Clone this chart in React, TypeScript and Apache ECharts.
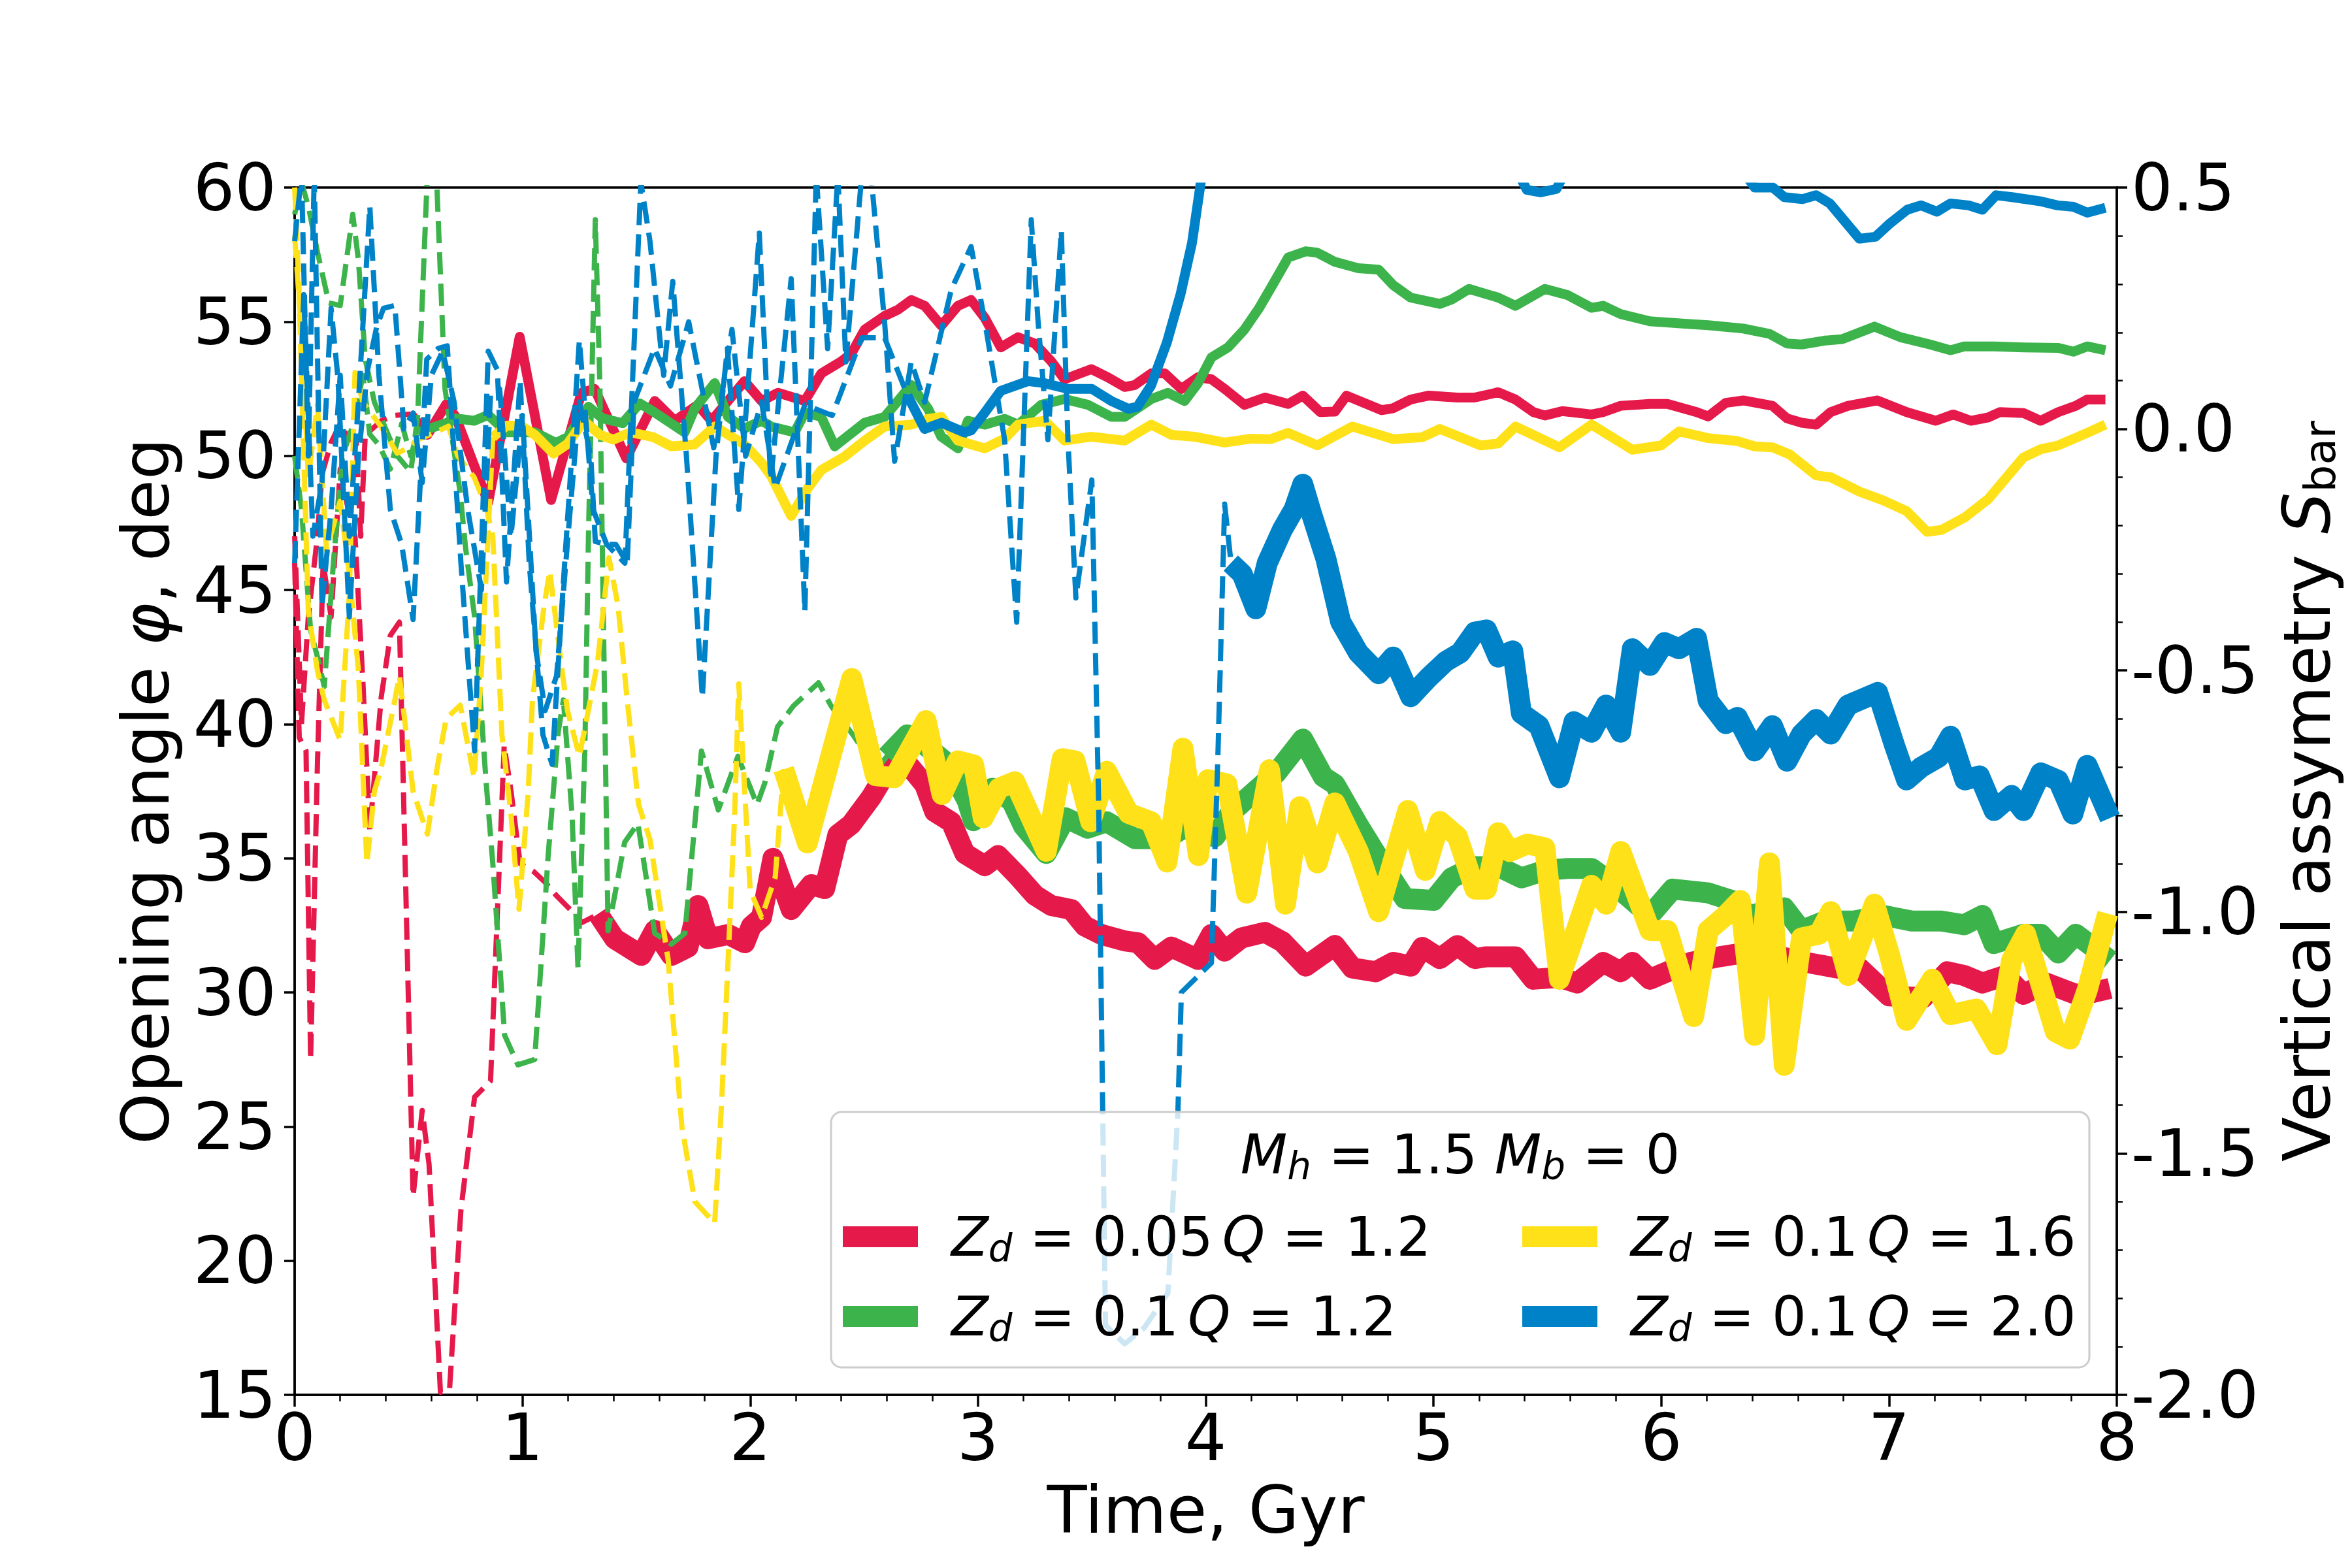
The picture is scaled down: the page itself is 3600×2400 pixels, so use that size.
import React, { useEffect, useRef } from "react";
import * as echarts from "echarts";

const FONT = "DejaVu Sans";
const RED = "#e6194b";
const GREEN = "#3cb44b";
const YELLOW = "#ffe119";
const BLUE = "#0082c8";

type P = [number, number][];

// ---- tick labels / axis ranges ----
const xTicks = [0, 1, 2, 3, 4, 5, 6, 7, 8];
const phiTicks = [15, 20, 25, 30, 35, 40, 45, 50, 55, 60];
const sTicks = [-2.0, -1.5, -1.0, -0.5, 0.0, 0.5];

// ---- legend entries ----
const legendTitle = "{i|M}{s|h}{n| = 1.5 }{i|M}{s|b}{n| = 0}";
const legendLabels = [
  "{i|Z}{s|d}{n| = 0.05}{q|Q}{n| = 1.2}",
  "{i|Z}{s|d}{n| = 0.1}{q|Q}{n| = 1.2}",
  "{i|Z}{s|d}{n| = 0.1}{q|Q}{n| = 1.6}",
  "{i|Z}{s|d}{n| = 0.1}{q|Q}{n| = 2.0}",
];

// ===== Z_d = 0.05, Q = 1.2 (red) =====
const redPhiDashed: P = [[0,46],[0.02,39.5],[0.05,39],[0.07,27.5],[0.1,38.5],[0.125,46],[0.16,44],[0.2,49.5],[0.235,48],[0.265,47],[0.3,41.5],[0.33,36],[0.38,41],[0.42,43.3],[0.46,43.8],[0.52,22.4],[0.56,25.6],[0.59,23.6],[0.64,15.1],[0.68,15.2],[0.73,21.9],[0.79,26.1],[0.86,26.7],[0.92,39.2],[0.95,37.5],[0.99,34.8],[1.05,34.5],[1.1,34.1],[1.15,33.6],[1.22,33.0],[1.26,32.6],[1.33,32.9]];
const redPhi: P = [[1.332,32.93],[1.405,32.0],[1.522,31.38],[1.581,32.31],[1.654,31.38],[1.727,31.69],[1.771,33.24],[1.815,32.0],[1.903,32.16],[1.976,31.85],[2.005,32.47],[2.05,32.8],[2.1,35.0],[2.18,33.09],[2.268,34.02],[2.327,33.87],[2.385,35.88],[2.444,36.27],[2.532,37.28],[2.62,38.52],[2.693,38.5],[2.766,37.75],[2.81,36.74],[2.883,36.35],[2.942,35.18],[3.03,34.72],[3.088,35.1],[3.176,34.33],[3.249,33.63],[3.322,33.24],[3.41,33.09],[3.469,32.47],[3.542,32.16],[3.644,31.92],[3.703,31.85],[3.776,31.23],[3.849,31.69],[3.966,31.23],[4.025,32.16],[4.083,31.54],[4.157,32.03],[4.26,32.24],[4.336,31.89],[4.439,30.98],[4.567,31.75],[4.644,30.91],[4.746,30.77],[4.823,31.12],[4.9,30.98],[4.951,31.68],[5.028,31.26],[5.105,31.75],[5.182,31.26],[5.233,31.33],[5.36,31.33],[5.438,30.49],[5.553,30.56],[5.63,30.35],[5.745,31.12],[5.822,30.77],[5.873,31.12],[5.95,30.49],[6.027,30.77],[6.13,31.12],[6.257,31.33],[6.36,31.47],[6.46,31.47],[6.59,31.19],[6.68,31.05],[6.77,30.91],[6.87,30.91],[7.0,29.87],[7.15,29.8],[7.256,30.77],[7.33,30.63],[7.41,30.35],[7.51,30.63],[7.59,29.93],[7.69,30.35],[7.82,29.93],[7.897,30.0],[7.97,30.15]];
const redSDashed: P = [[0,-0.222],[0.03,-0.611],[0.06,-0.389],[0.1,-0.222],[0.12,-0.094],[0.16,-0.028],[0.2,0.011],[0.24,-0.022],[0.27,-0.022],[0.29,-0.222],[0.31,-0.011],[0.34,0.0],[0.38,0.017],[0.44,0.028],[0.51,0.031]];
const redS: P = [[0.51,0.031],[0.583,-0.012],[0.665,0.051],[0.706,0.026],[0.85,-0.152],[0.988,0.191],[1.126,-0.147],[1.259,0.075],[1.317,0.083],[1.456,-0.061],[1.581,0.058],[1.669,0.017],[1.77,0.05],[1.83,0.017],[1.975,0.099],[2.05,0.058],[2.122,0.075],[2.24,0.058],[2.312,0.115],[2.4,0.14],[2.444,0.156],[2.503,0.206],[2.59,0.234],[2.649,0.247],[2.707,0.267],[2.766,0.255],[2.839,0.214],[2.912,0.255],[2.97,0.267],[3.03,0.23],[3.1,0.169],[3.176,0.19],[3.249,0.177],[3.322,0.14],[3.38,0.103],[3.498,0.124],[3.57,0.107],[3.644,0.087],[3.688,0.091],[3.761,0.115],[3.82,0.115],[3.893,0.083],[3.966,0.107],[4.025,0.103],[4.083,0.083],[4.17,0.05],[4.26,0.065],[4.362,0.052],[4.426,0.069],[4.503,0.035],[4.567,0.036],[4.618,0.069],[4.772,0.039],[4.823,0.043],[4.9,0.061],[4.977,0.069],[5.105,0.065],[5.18,0.065],[5.284,0.076],[5.36,0.061],[5.438,0.035],[5.489,0.028],[5.566,0.037],[5.694,0.03],[5.745,0.035],[5.822,0.048],[5.95,0.052],[6.027,0.052],[6.155,0.035],[6.206,0.026],[6.283,0.054],[6.36,0.059],[6.488,0.048],[6.552,0.022],[6.616,0.013],[6.68,0.009],[6.744,0.035],[6.82,0.048],[6.949,0.059],[7.077,0.035],[7.205,0.017],[7.282,0.03],[7.359,0.017],[7.436,0.024],[7.487,0.035],[7.59,0.033],[7.666,0.017],[7.743,0.035],[7.82,0.048],[7.87,0.061],[7.95,0.061]];

// ===== Z_d = 0.1, Q = 1.2 (green) =====
const greenPhiDashed: P = [[0,59],[0.03,60.2],[0.06,59.3],[0.1,57.6],[0.15,55.7],[0.2,55.6],[0.255,59],[0.28,57.3],[0.31,53.6],[0.35,52],[0.4,51],[0.45,50],[0.51,49.4],[0.54,51.5],[0.585,61],[0.62,61],[0.66,52.5],[0.727,48.6],[0.75,46.6],[0.79,44],[0.84,37.9],[0.87,34.8],[0.922,28.4],[0.98,27.3],[1.054,27.5],[1.113,35.1],[1.157,39.7],[1.18,40.9],[1.218,36.6],[1.244,30.9],[1.274,39],[1.29,47],[1.32,58.8],[1.34,52.7],[1.376,32.3],[1.449,35.6],[1.507,36.3],[1.581,32.2],[1.654,31.8],[1.713,32.2],[1.786,39],[1.86,36.8],[1.946,38.8],[2.03,37],[2.064,37.8],[2.12,39.9],[2.19,40.68],[2.3,41.54],[2.355,40.68],[2.453,39.58],[2.508,38.87],[2.55,38.24],[2.6,38.8]];
const greenPhi: P = [[2.6,38.8],[2.69,39.6],[2.77,39.2],[2.87,38.5],[2.953,37.14],[2.98,36.4],[3.064,37.61],[3.148,37.14],[3.2,36.2],[3.3,35.18],[3.384,36.51],[3.482,36.12],[3.565,36.36],[3.69,35.73],[3.83,35.73],[3.9,36.12],[4.04,35.8],[4.107,36.67],[4.19,37.3],[4.27,37.9],[4.31,38.18],[4.426,39.44],[4.516,38.04],[4.567,37.76],[4.67,36.23],[4.772,34.83],[4.874,33.5],[5.0,33.43],[5.08,34.27],[5.18,34.69],[5.284,34.69],[5.386,34.27],[5.489,34.55],[5.591,34.62],[5.694,34.62],[5.796,33.99],[5.95,32.87],[6.05,33.85],[6.206,33.71],[6.31,33.43],[6.385,32.87],[6.54,33.15],[6.616,32.31],[6.718,32.66],[6.846,32.66],[6.975,32.87],[7.1,32.66],[7.23,32.66],[7.33,32.52],[7.41,32.87],[7.46,31.82],[7.59,32.17],[7.666,32.17],[7.743,31.47],[7.82,32.17],[7.897,31.68],[7.97,31.19]];
const greenSDashed: P = [[0,-0.056],[0.03,-0.167],[0.07,-0.417],[0.1,-0.472],[0.13,-0.533],[0.17,-0.278],[0.21,-0.056],[0.25,0.0],[0.3,0.111],[0.33,-0.011],[0.37,-0.033],[0.42,-0.083],[0.47,0.011],[0.51,-0.056],[0.54,-0.007]];
const greenS: P = [[0.54,-0.007],[0.665,0.012],[0.706,0.022],[0.788,0.017],[0.85,0.029],[0.932,-0.007],[0.993,-0.007],[1.055,-0.007],[1.147,-0.029],[1.198,-0.017],[1.29,0.046],[1.352,0.022],[1.44,0.012],[1.515,0.053],[1.575,0.036],[1.61,0.025],[1.712,-0.007],[1.756,0.042],[1.844,0.095],[1.903,0.025],[1.975,0.001],[2.05,0.017],[2.093,0.005],[2.195,-0.007],[2.24,0.034],[2.312,0.025],[2.371,-0.036],[2.503,0.013],[2.59,0.025],[2.707,0.091],[2.781,0.042],[2.839,-0.016],[2.912,-0.04],[2.956,0.017],[3.03,0.009],[3.117,0.021],[3.176,0.009],[3.278,0.05],[3.38,0.062],[3.483,0.05],[3.586,0.025],[3.644,0.025],[3.761,0.062],[3.834,0.075],[3.907,0.058],[3.966,0.095],[4.025,0.148],[4.098,0.169],[4.17,0.206],[4.234,0.25],[4.298,0.302],[4.362,0.355],[4.44,0.368],[4.49,0.365],[4.567,0.346],[4.67,0.333],[4.759,0.33],[4.823,0.298],[4.9,0.272],[5.028,0.259],[5.079,0.268],[5.156,0.29],[5.284,0.272],[5.36,0.255],[5.489,0.29],[5.59,0.277],[5.694,0.251],[5.745,0.255],[5.822,0.238],[5.95,0.223],[6.104,0.218],[6.206,0.215],[6.36,0.208],[6.475,0.197],[6.552,0.177],[6.616,0.175],[6.718,0.183],[6.795,0.186],[6.936,0.212],[7.05,0.19],[7.18,0.175],[7.27,0.163],[7.33,0.171],[7.46,0.171],[7.59,0.169],[7.743,0.168],[7.81,0.16],[7.87,0.171],[7.95,0.163]];

// ===== Z_d = 0.1, Q = 1.6 (yellow) =====
const yellowPhiDashed: P = [[0,60],[0.02,56],[0.04,50],[0.06,44.2],[0.1,42],[0.13,40.9],[0.2,39.4],[0.24,44.8],[0.265,53.1],[0.3,52],[0.378,51.1],[0.45,50.1],[0.5,50.3],[0.54,50.6],[0.624,50.9],[0.675,51.1],[0.716,50],[0.788,49.2],[0.84,48.1],[0.87,47],[0.91,39.6],[0.95,36.6],[0.985,33.1],[1.025,37.4],[1.044,40.9],[1.095,44.4],[1.12,45.7],[1.177,41.8],[1.198,40.5],[1.25,38.8],[1.28,40.1],[1.33,42.3],[1.38,46.2],[1.42,44.4],[1.46,40.9],[1.51,37],[1.56,35.7],[1.64,31.2],[1.7,25],[1.757,22.2],[1.844,21.4],[1.874,25.8],[1.903,31.2],[1.932,36.7],[1.95,41.5],[2.0,33.8],[2.05,32.8],[2.11,34.3],[2.147,38.32]];
const yellowPhi: P = [[2.147,38.32],[2.251,35.57],[2.446,41.7],[2.55,38.08],[2.633,38.0],[2.772,40.13],[2.842,37.38],[2.911,38.63],[2.981,38.48],[3.023,36.51],[3.092,37.61],[3.162,37.85],[3.3,35.26],[3.37,38.71],[3.426,38.63],[3.495,36.36],[3.565,38.24],[3.662,36.67],[3.76,36.36],[3.83,34.86],[3.9,39.1],[3.968,35.1],[4.01,37.93],[4.093,37.77],[4.18,33.7],[4.28,38.3],[4.35,33.29],[4.413,36.92],[4.49,34.83],[4.567,37.06],[4.67,35.25],[4.759,33.01],[4.887,36.78],[4.964,34.55],[5.028,36.37],[5.105,35.81],[5.182,33.85],[5.233,33.85],[5.284,35.95],[5.335,35.25],[5.412,35.53],[5.489,35.39],[5.553,30.49],[5.694,33.99],[5.758,33.29],[5.822,35.25],[5.95,32.31],[6.027,32.31],[6.142,29.1],[6.206,32.31],[6.283,32.87],[6.347,33.43],[6.41,28.4],[6.475,34.83],[6.54,27.28],[6.616,32.03],[6.693,32.17],[6.744,33.01],[6.82,30.63],[6.936,33.29],[7.0,31.47],[7.077,28.96],[7.19,30.49],[7.27,29.17],[7.384,29.38],[7.474,28.05],[7.538,31.19],[7.6,32.17],[7.73,28.54],[7.794,28.26],[7.87,30.08],[7.96,32.94]];
const yellowSDashed: P = [[0,0.4],[0.03,0.2],[0.06,-0.1],[0.1,0.05],[0.14,-0.25],[0.2,-0.15],[0.24,-0.3],[0.28,-0.5],[0.317,-0.9],[0.35,-0.75],[0.378,-0.706],[0.44,-0.561],[0.46,-0.511],[0.52,-0.75],[0.583,-0.839],[0.624,-0.706],[0.665,-0.6],[0.727,-0.572],[0.788,-0.722],[0.82,-0.5],[0.87,-0.017]];
const yellowS: P = [[0.87,-0.017],[0.931,0.007],[0.993,0.007],[1.055,-0.012],[1.136,-0.051],[1.198,-0.031],[1.27,0.017],[1.34,-0.012],[1.4,-0.022],[1.475,-0.007],[1.575,-0.017],[1.654,-0.036],[1.756,-0.032],[1.844,0.005],[1.975,-0.032],[2.05,-0.07],[2.093,-0.098],[2.18,-0.18],[2.254,-0.122],[2.312,-0.085],[2.415,-0.057],[2.503,-0.024],[2.59,0.005],[2.707,0.009],[2.781,0.021],[2.839,0.025],[2.912,-0.024],[3.03,-0.04],[3.117,-0.02],[3.176,0.009],[3.293,0.017],[3.38,-0.024],[3.498,-0.016],[3.644,-0.024],[3.761,0.009],[3.849,-0.012],[3.95,-0.016],[4.083,-0.028],[4.2,-0.02],[4.285,-0.021],[4.362,-0.008],[4.49,-0.034],[4.644,0.005],[4.823,-0.021],[4.951,-0.017],[5.028,0.0],[5.207,-0.034],[5.284,-0.03],[5.36,0.005],[5.553,-0.038],[5.694,0.009],[5.873,-0.043],[6.0,-0.034],[6.078,-0.005],[6.206,-0.019],[6.334,-0.025],[6.41,-0.036],[6.488,-0.038],[6.565,-0.053],[6.68,-0.096],[6.744,-0.1],[6.872,-0.13],[6.975,-0.148],[7.077,-0.17],[7.167,-0.213],[7.23,-0.209],[7.333,-0.183],[7.436,-0.145],[7.59,-0.059],[7.666,-0.042],[7.743,-0.034],[7.87,-0.008],[7.95,0.009]];

// ===== Z_d = 0.1, Q = 2.0 (blue) =====
const bluePhiDashed: P = [[0,58],[0.03,60.5],[0.06,50],[0.086,60.5],[0.12,44.4],[0.16,48],[0.2,53],[0.24,47],[0.28,52],[0.33,59.3],[0.37,53],[0.42,48],[0.47,46.7],[0.52,43.9],[0.58,53.6],[0.63,54],[0.67,54.1],[0.73,46],[0.79,39],[0.85,53.9],[0.89,53.2],[0.93,45.3],[0.99,52.8],[1.03,46],[1.09,39.6],[1.13,38.5],[1.18,45.3],[1.25,54.3],[1.31,48],[1.37,46.7],[1.45,46],[1.52,60.2],[1.56,58],[1.62,53],[1.66,56.5],[1.72,50],[1.79,41],[1.85,50],[1.9,54],[1.95,48],[2.04,58.3],[2.09,49.1],[2.18,56.6],[2.24,44.2],[2.29,60.5],[2.34,54],[2.385,60.5],[2.42,53.5],[2.49,60.5],[2.53,60.5],[2.59,55],[2.634,49.8],[2.707,53.5],[2.766,52],[2.883,56.2],[2.97,57.8],[3.03,55],[3.117,50.6],[3.17,43.8],[3.205,52],[3.234,58.8],[3.264,55],[3.307,50.6],[3.366,58.4],[3.395,50.6],[3.43,44.7],[3.5,49.1],[3.53,37],[3.56,17.6],[3.644,16.9],[3.73,17.5],[3.834,18.8],[3.878,25.6],[3.893,30],[4.025,31.1],[4.054,39],[4.083,48.2],[4.11,46.1]];
const bluePhi: P = [[4.11,46.0],[4.16,45.6],[4.22,44.3],[4.27,46.0],[4.336,47.24],[4.388,48.01],[4.426,48.94],[4.464,47.86],[4.528,46.15],[4.592,43.82],[4.67,42.66],[4.759,41.88],[4.823,42.5],[4.9,41.02],[4.977,41.72],[5.054,42.34],[5.118,42.66],[5.182,43.43],[5.233,43.51],[5.284,42.5],[5.348,42.73],[5.386,40.4],[5.463,39.94],[5.553,38.0],[5.617,40.09],[5.694,39.7],[5.758,40.71],[5.822,39.7],[5.873,42.81],[5.95,42.19],[6.014,43.04],[6.078,42.81],[6.155,43.2],[6.206,40.87],[6.283,40.02],[6.334,40.25],[6.41,39.0],[6.488,39.94],[6.552,38.62],[6.616,39.63],[6.68,40.17],[6.744,39.63],[6.82,40.71],[6.95,41.18],[7.026,39.16],[7.077,37.92],[7.141,38.39],[7.218,38.77],[7.27,39.55],[7.333,37.92],[7.397,38.07],[7.461,36.78],[7.538,37.34],[7.59,36.78],[7.666,38.18],[7.743,37.9],[7.807,36.65],[7.87,38.46],[7.97,36.5]];
const blueSDashed: P = [[0,-0.278],[0.04,0.278],[0.08,-0.222],[0.12,-0.111],[0.16,0.25],[0.19,0.106],[0.24,-0.389],[0.28,-0.056],[0.32,0.122],[0.36,0.211],[0.39,0.25],[0.44,0.256],[0.48,0.0],[0.52,0.033],[0.56,-0.111],[0.6,0.111],[0.65,0.161],[0.7,0.056],[0.76,-0.167],[0.82,-0.333],[0.86,0.072],[0.9,0.083],[0.95,-0.222],[1.0,0.028],[1.06,-0.461],[1.1,-0.583],[1.15,-0.511],[1.2,-0.222],[1.25,0.056],[1.3,-0.056],[1.32,-0.233],[1.37,-0.239],[1.41,-0.239],[1.46,-0.278],[1.49,0.056],[1.58,0.167],[1.65,0.089],[1.73,0.222],[1.8,0.056],[1.84,-0.039],[1.92,0.206],[1.98,-0.056],[2.05,0.056],[2.11,-0.122],[2.24,0.05],[2.36,0.028],[2.49,0.189],[2.59,0.189],[2.69,0.07]];
const blueS: P = [[2.69,0.07],[2.766,0.0],[2.84,0.013],[2.94,-0.007],[2.97,-0.003],[3.03,0.034],[3.1,0.079],[3.22,0.099],[3.29,0.095],[3.395,0.083],[3.5,0.083],[3.585,0.058],[3.66,0.042],[3.7,0.046],[3.76,0.09],[3.83,0.18],[3.89,0.28],[3.94,0.386],[3.975,0.5],[4.02,0.65],[4.1,0.85],[4.3,1.0],[4.6,1.05],[4.9,0.9],[5.2,0.7],[5.35,0.55],[5.41,0.495],[5.47,0.49],[5.54,0.497],[5.65,0.6],[5.9,0.7],[6.2,0.62],[6.35,0.54],[6.41,0.5],[6.49,0.5],[6.54,0.48],[6.62,0.476],[6.68,0.484],[6.74,0.467],[6.87,0.394],[6.94,0.398],[7.0,0.424],[7.08,0.454],[7.14,0.463],[7.21,0.45],[7.27,0.467],[7.35,0.463],[7.41,0.454],[7.47,0.484],[7.54,0.48],[7.67,0.471],[7.74,0.463],[7.81,0.46],[7.87,0.448],[7.95,0.458]];

const THICK = 32;
const THIN = 15;
const DASHW = 8;

function line(name: string, data: P, color: string, width: number, yAxisIndex: number, dashed: boolean) {
  return {
    type: "line",
    name,
    data,
    yAxisIndex,
    showSymbol: false,
    symbol: "none",
    silent: true,
    clip: true,
    smooth: false,
    lineStyle: { color, width, type: dashed ? [34, 14] : "solid", cap: "butt", join: "round" },
    itemStyle: { color },
    emphasis: { disabled: true },
  };
}

const groups: { key: string; color: string; phiD: P; phi: P; sD: P; s: P }[] = [
  { key: "red", color: RED, phiD: redPhiDashed, phi: redPhi, sD: redSDashed, s: redS },
  { key: "green", color: GREEN, phiD: greenPhiDashed, phi: greenPhi, sD: greenSDashed, s: greenS },
  { key: "yellow", color: YELLOW, phiD: yellowPhiDashed, phi: yellowPhi, sD: yellowSDashed, s: yellowS },
  { key: "blue", color: BLUE, phiD: bluePhiDashed, phi: bluePhi, sD: blueSDashed, s: blueS },
];

const richLegend = {
  n: { fontSize: 83, fontFamily: FONT, fill: "#000", lineHeight: 96, verticalAlign: "middle" },
  i: { fontSize: 83, fontFamily: FONT, fontStyle: "italic", fill: "#000", lineHeight: 96, verticalAlign: "middle" },
  q: { fontSize: 83, fontFamily: FONT, fontStyle: "italic", fill: "#000", lineHeight: 96, verticalAlign: "middle", padding: [0, 0, 0, 14] },
  s: { fontSize: 58, fontFamily: FONT, fontStyle: "italic", fill: "#000", lineHeight: 58, padding: [36, 0, 0, 0], verticalAlign: "middle" },
};

export default function App() {
  const ref = useRef<HTMLDivElement>(null);
  useEffect(() => {
    if (!ref.current) return;
    const chart = echarts.init(ref.current, null, { renderer: "svg" });

    const series: any[] = [];
    groups.forEach((g) => {
      series.push(line(g.key + " phi early", g.phiD, g.color, DASHW, 0, true));
      series.push(line(g.key + " phi", g.phi, g.color, THICK, 0, false));
      series.push(line(g.key + " S early", g.sD, g.color, DASHW, 1, true));
      series.push(line(g.key + " S", g.s, g.color, THIN, 1, false));
    });

    const axisText = { fontSize: 100, fontFamily: FONT, color: "#000" };
    const L = { x0: 1272, y0: 1702, w: 1926, h: 391 };
    const colX = [1290, 2330];
    const rowY = [1893, 2015];
    const legendItems: any[] = [];
    const colors = [RED, GREEN, YELLOW, BLUE];
    [0, 1, 2, 3].forEach((k) => {
      const col = k < 2 ? 0 : 1;
      const row = k % 2;
      legendItems.push({
        type: "rect",
        shape: { x: colX[col], y: rowY[row] - 16, width: 115, height: 32 },
        style: { fill: colors[k] },
        z: 101,
      });
      legendItems.push({
        type: "text",
        x: colX[col] + 166,
        y: rowY[row],
        style: {
          text: legendLabels[k],
          rich: richLegend,
          align: "left",
          verticalAlign: "middle",
          fill: "#000",
          fontSize: 83,
          fontFamily: FONT,
        },
        z: 101,
      });
    });

    const option: any = {
      animation: false,
      backgroundColor: "#fff",
      grid: { left: 451, top: 287, width: 2789, height: 1848, show: true, borderColor: "#000", borderWidth: 3.5, backgroundColor: "transparent" },
      xAxis: {
        type: "value",
        min: xTicks[0],
        max: xTicks[xTicks.length - 1],
        interval: 1,
        name: "Time, Gyr",
        nameLocation: "middle",
        nameGap: 138,
        nameTextStyle: { ...axisText, lineHeight: 76 },
        axisLine: { show: true, onZero: false, lineStyle: { color: "#000", width: 3.5 } },
        axisTick: { show: true, length: 18, lineStyle: { color: "#000", width: 3.5 } },
        minorTick: { show: true, splitNumber: 5, length: 10, lineStyle: { color: "#000", width: 2.5 } },
        axisLabel: { ...axisText, lineHeight: 76, margin: 27 },
        splitLine: { show: false },
        minorSplitLine: { show: false },
      },
      yAxis: [
        {
          type: "value",
          position: "left",
          min: phiTicks[0],
          max: phiTicks[phiTicks.length - 1],
          interval: 5,
          name: "Opening angle {i|φ}, deg",
          nameLocation: "middle",
          nameRotate: 90,
          nameGap: 178,
          nameTextStyle: { ...axisText, rich: { i: { ...axisText, fontStyle: "italic" } } },
          axisLine: { show: true, onZero: false, lineStyle: { color: "#000", width: 3.5 } },
          axisTick: { show: true, length: 16, lineStyle: { color: "#000", width: 3.5 } },
          minorTick: { show: false },
          axisLabel: { ...axisText, margin: 28 },
          splitLine: { show: false },
        },
        {
          type: "value",
          position: "right",
          min: sTicks[0],
          max: sTicks[sTicks.length - 1],
          interval: 0.5,
          name: "Vertical assymetry {i|S}{s|bar}",
          nameLocation: "middle",
          nameRotate: 90,
          nameGap: 236,
          nameTextStyle: {
            ...axisText,
            rich: {
              i: { ...axisText, fontStyle: "italic", lineHeight: 110 },
              n: { ...axisText, lineHeight: 110 },
              s: { fontSize: 66, fontFamily: FONT, color: "#000", lineHeight: 66, padding: [40, 0, 0, 0] },
            },
          },
          axisLine: { show: true, onZero: false, lineStyle: { color: "#000", width: 3.5 } },
          axisTick: { show: true, length: 16, lineStyle: { color: "#000", width: 3.5 } },
          minorTick: { show: true, splitNumber: 5, length: 9, lineStyle: { color: "#000", width: 2.5 } },
          axisLabel: { ...axisText, margin: 22, formatter: (v: number) => v.toFixed(1) },
          splitLine: { show: false },
        },
      ],
      series,
      graphic: [
        {
          type: "rect",
          shape: { x: L.x0, y: L.y0, width: L.w, height: L.h, r: 16 },
          style: { fill: "rgba(255,255,255,0.8)", stroke: "#cccccc", lineWidth: 3 },
          z: 100,
        },
        {
          type: "text",
          x: L.x0 + L.w / 2,
          y: 1767,
          style: {
            text: legendTitle,
            rich: richLegend,
            align: "center",
            verticalAlign: "middle",
            fill: "#000",
            fontSize: 83,
            fontFamily: FONT,
          },
          z: 101,
        },
        ...legendItems,
      ],
    };
    chart.setOption(option);
    return () => chart.dispose();
  }, []);

  return <div ref={ref} style={{ position: "absolute", left: 0, top: 0, width: 3600, height: 2400, background: "#fff" }} />;
}
